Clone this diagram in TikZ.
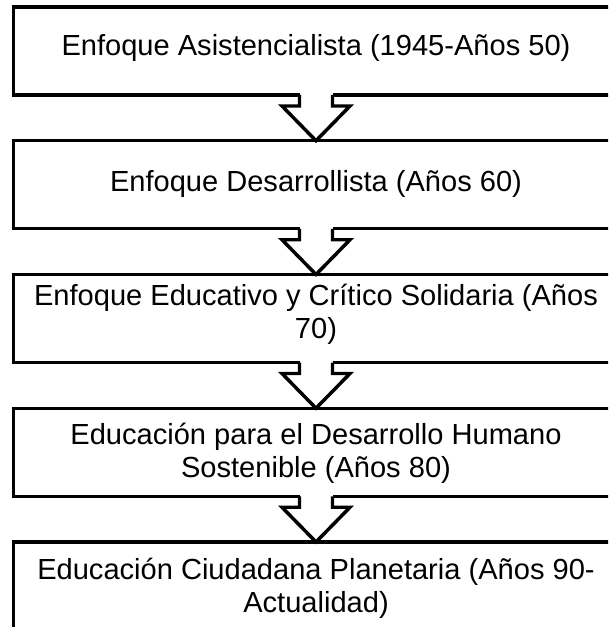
\documentclass[tikz,border=0pt]{standalone}
\usepackage{fontspec}
\setmainfont{Liberation Sans}
\usetikzlibrary{calc}
\tikzset{
  stagebox/.style={draw=black, line width=2.6pt, fill=white, outer sep=0pt,
    minimum width=453.75pt, minimum height=66pt, inner sep=0pt},
  stagetext/.style={align=center, font=\fontsize{21.8}{24.75}\selectfont, inner sep=0pt},
  bigarrow/.style={draw=black, line width=2.6pt, line join=miter},
}
\newcommand\blockarrow[2]{%
  \fill[white] ($(#1.south)+(-16.5,-3)$) rectangle ($(#1.south)+(16.5,4)$);
  \draw[bigarrow] ($(#1.south)+(-16.5,0)$) -- ++(0,11) -- ++(-17.5,0) -- (#2.north)
     -- ($(#1.south)+(34,11)$) -- ++(-17.5,0) -- ($(#1.south)+(16.5,0)$);
}
\begin{document}
\begin{tikzpicture}[x=0.75pt,y=-0.75pt]
\useasboundingbox (0,0) rectangle (608,627);
\clip (0,0) rectangle (608,627);
\node[stagebox] (b1) at (316,51) {};
\node[stagebox] (b2) at (316,184.75) {};
\node[stagebox] (b3) at (316,318.5) {};
\node[stagebox] (b4) at (316,452.25) {};
\node[stagebox] (b5) at (316,586) {};
\node[stagetext] (t1) at (316,48) {Enfoque Asistencialista (1945-Años 50)};
\node[stagetext] (t2) at (316,184) {Enfoque Desarrollista (Años 60)};
\node[stagetext] (t3) at (316,314) {Enfoque Educativo y Crítico Solidaria (Años\\70)};
\node[stagetext] (t4) at (316,453) {Educación para el Desarrollo Humano\\Sostenible (Años 80)};
\node[stagetext] (t5) at (316,588) {Educación Ciudadana Planetaria (Años 90-\\Actualidad)};
\blockarrow{b1}{b2}
\blockarrow{b2}{b3}
\blockarrow{b3}{b4}
\blockarrow{b4}{b5}
\end{tikzpicture}
\end{document}
